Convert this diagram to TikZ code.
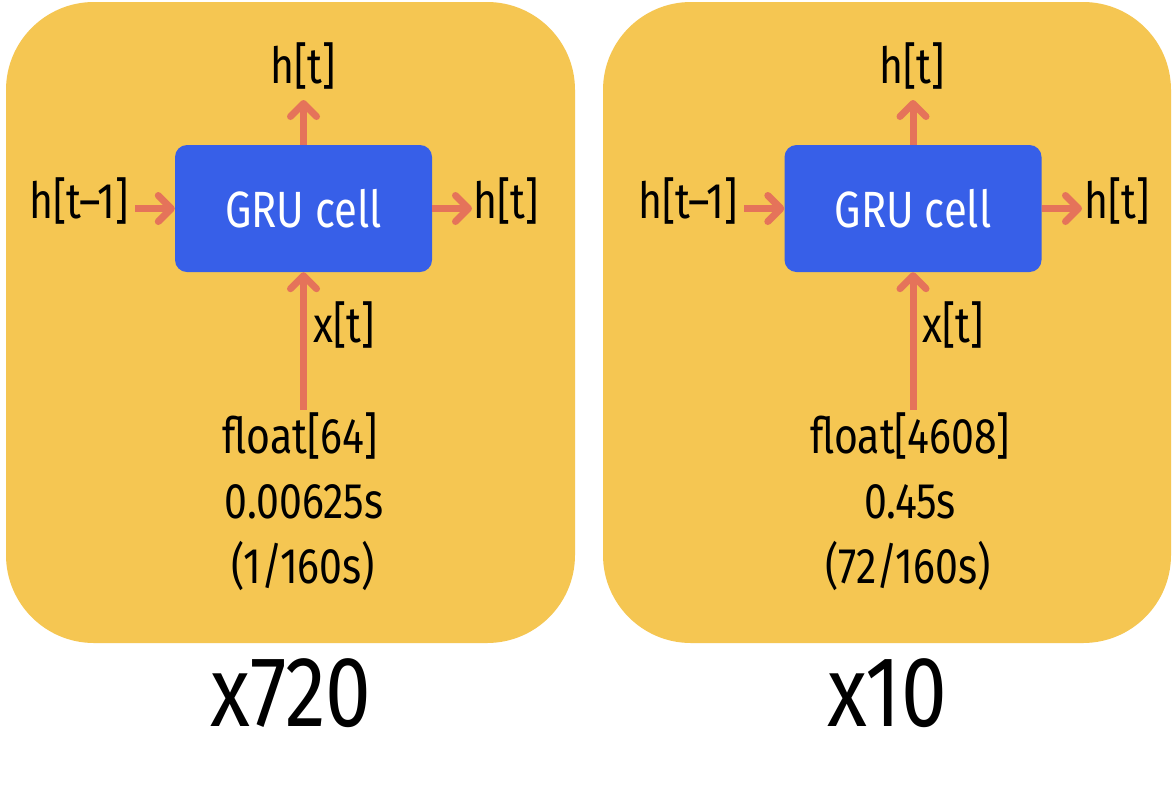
\documentclass[tikz,border=0pt]{standalone}
\usepackage{fontspec}
\setmainfont{Fira Sans}[FakeStretch=0.82]
\usetikzlibrary{arrows.meta}
\definecolor{panelc}{HTML}{F5C652}
\definecolor{cellc}{HTML}{375FE8}
\definecolor{arrc}{HTML}{E5735A}
\tikzset{
  panel/.style={fill=panelc, draw=none, rounded corners=88pt},
  cell/.style={fill=cellc, draw=none, rounded corners=12pt, minimum width=257pt, minimum height=127pt, text=white, font=\fontsize{51}{54}\selectfont, inner sep=0pt},
  lbl/.style={font=\fontsize{50}{53}\selectfont, inner sep=0pt, text=black},
  big/.style={font=\fontsize{100}{104}\selectfont, inner sep=0pt, text=black},
  arr/.style={draw=arrc, line width=7pt, -{Straight Barb[round, length=13pt, width=26pt]}},
}
\begin{document}
\begin{tikzpicture}[x=1pt,y=-1pt]
\useasboundingbox[fill=white] (0,0) rectangle (1172,796);
% panels
\path[panel] (6,2) rectangle (575,643);
\path[panel] (603,2) rectangle (1171,643);
% left panel
\node[cell] (c1) at (303.5,208.5) {GRU cell};
\node[lbl, anchor=base] (t1) at (303,83) {h[t]};
\node[lbl, anchor=base east] (l1) at (129,218) {h[t–1]};
\node[lbl, anchor=base west] (r1) at (473,218) {h[t]};
\node[lbl, anchor=base] (x1) at (344,342) {x[t]};
\node[lbl, anchor=base] (f1) at (300,453) {float[64]};
\node[lbl, anchor=base] (s1) at (304,518) {0.00625s};
\node[lbl, anchor=base] (p1) at (303,583) {(1/160s)};
\node[big, anchor=base] (m1) at (291,726) {x720};
\coordinate (u1) at (303.5,100);
\coordinate (a1) at (135,208.5);
\coordinate (b1) at (472,208.5);
\coordinate (d1) at (303.5,410);
\draw[arr] (c1.north) -- (u1);
\draw[arr] (a1) -- (c1.west);
\draw[arr] (c1.east) -- (b1);
\draw[arr] (d1) -- (c1.south);
% right panel
\node[cell] (c2) at (913,208.5) {GRU cell};
\node[lbl, anchor=base] (t2) at (912,83) {h[t]};
\node[lbl, anchor=base east] (l2) at (738,218) {h[t–1]};
\node[lbl, anchor=base west] (r2) at (1084,218) {h[t]};
\node[lbl, anchor=base] (x2) at (953,342) {x[t]};
\node[lbl, anchor=base] (f2) at (910,453) {float[4608]};
\node[lbl, anchor=base] (s2) at (910,518) {0.45s};
\node[lbl, anchor=base] (p2) at (908,583) {(72/160s)};
\node[big, anchor=base] (m2) at (887,726) {x10};
\coordinate (u2) at (913,100);
\coordinate (a2) at (744,208.5);
\coordinate (b2) at (1082,208.5);
\coordinate (d2) at (913,410);
\draw[arr] (c2.north) -- (u2);
\draw[arr] (a2) -- (c2.west);
\draw[arr] (c2.east) -- (b2);
\draw[arr] (d2) -- (c2.south);
\end{tikzpicture}
\end{document}
